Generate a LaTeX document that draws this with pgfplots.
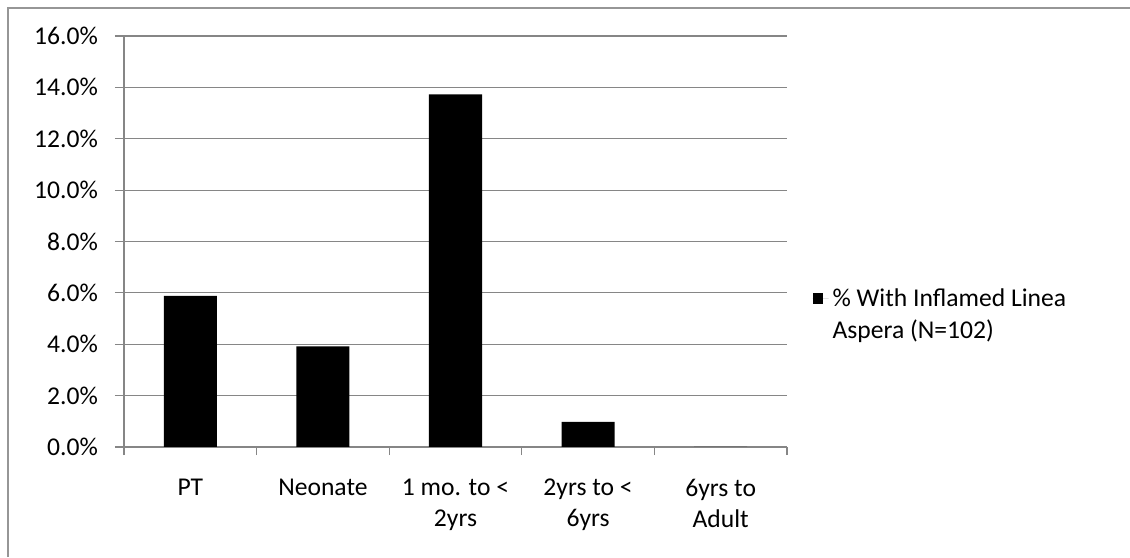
\documentclass[border=0pt]{standalone}
\usepackage{pgfplots}
\pgfplotsset{compat=1.18}
\usepackage{fontspec}
\setmainfont{Carlito}
\definecolor{gridgray}{RGB}{134,134,134}
\definecolor{framegray}{RGB}{150,150,150}
\begin{document}
\begin{tikzpicture}[x=1pt,y=1pt]
\useasboundingbox (-62,-55) rectangle (503,223.5);
\draw[framegray, line width=0.8pt] (-58,-55) -- (-58,219.5) -- (503,219.5);
\begin{axis}[
  at={(0,0)}, anchor=south west, scale only axis,
  width=331.5pt, height=205.5pt,
  xmin=-0.5, xmax=4.5, ymin=0, ymax=16,
  axis x line*=bottom, axis y line*=left,
  axis line style={gridgray, line width=0.6pt},
  ytick={0,2,...,16},
  yticklabels={0.0\%,2.0\%,4.0\%,6.0\%,8.0\%,10.0\%,12.0\%,14.0\%,16.0\%},
  ymajorgrids, grid style={gridgray, line width=0.6pt},
  xtick={0,1,2,3,4},
  xticklabels={PT,Neonate,1 mo. to <\\2yrs,2yrs to <\\6yrs,6yrs to\\Adult},
  minor xtick={-0.5,0.5,1.5,2.5,3.5,4.5},
  major x tick style={draw=none},
  minor x tick style={gridgray, line width=0.6pt},
  ytick style={gridgray, line width=0.6pt},
  tick align=outside,
  major tick length=4.5pt, minor tick length=4pt,
  every tick label/.append style={font=\fontsize{12.8}{15.6}\selectfont, text=black},
  xticklabel style={align=center, yshift=-8pt},
  yticklabel style={xshift=-5pt},
  legend style={draw=none, fill=none, at={(1.038,0.322)}, anchor=west,
    font=\fontsize{12.8}{16}\selectfont, cells={align=left}, inner sep=0pt},
  legend image code/.code={\fill[black] (-3pt,5.4pt) rectangle (2.2pt,10.6pt); \path (5pt,8pt) -- (-3pt,8pt);},
  clip=false,
]
\addplot[ybar, bar width=26.5pt, fill=black, draw=none] coordinates {
  (0,5.88) (1,3.92) (2,13.73) (3,0.98) (4,0)
};
\addlegendentry{\% With Inflamed Linea\\Aspera (N=102)}
\end{axis}
\end{tikzpicture}
\end{document}
